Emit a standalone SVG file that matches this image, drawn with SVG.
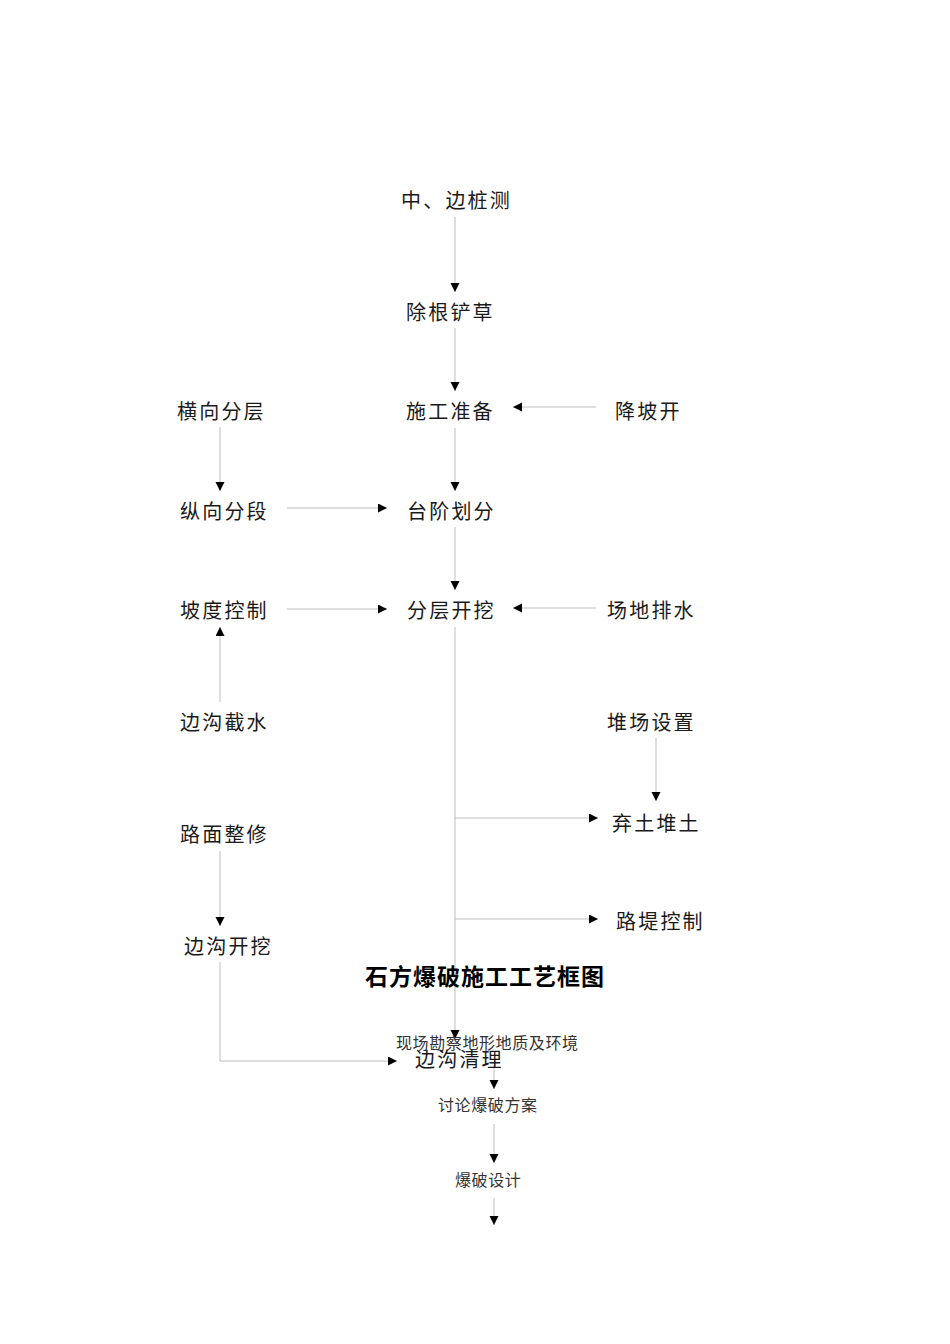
<svg xmlns="http://www.w3.org/2000/svg" width="950" height="1344" viewBox="0 0 950 1344">
<style>
.n{font-family:"Noto Sans CJK SC","Noto Sans CJK JP",sans-serif;font-size:20px;letter-spacing:2.2px;fill:#1a1a1a;}
.s{font-family:"Noto Sans CJK SC","Noto Sans CJK JP",sans-serif;font-size:16px;letter-spacing:0.6px;fill:#333;}
.t{font-family:"Noto Sans CJK SC","Noto Sans CJK JP",sans-serif;font-size:23px;font-weight:bold;fill:#000;}
.c{stroke:#bdbdbd;stroke-width:1;fill:none;marker-end:url(#ah);}
</style>
<defs>
<marker id="ah" markerUnits="userSpaceOnUse" markerWidth="10" markerHeight="10" refX="9" refY="4.5" orient="auto">
<path d="M0,0 L9,4.5 L0,9 z" fill="#000"/>
</marker>
</defs>
<rect width="950" height="1344" fill="#fff"/>
<g id="connectors">
<line class="c" x1="455" y1="217" x2="455" y2="292"/>
<line class="c" x1="455" y1="328" x2="455" y2="391"/>
<line class="c" x1="596" y1="407" x2="513" y2="407"/>
<line class="c" x1="220" y1="427" x2="220" y2="491"/>
<line class="c" x1="455" y1="428" x2="455" y2="491"/>
<line class="c" x1="287" y1="508" x2="387" y2="508"/>
<line class="c" x1="455" y1="527" x2="455" y2="590"/>
<line class="c" x1="287" y1="609" x2="387" y2="609"/>
<line class="c" x1="596" y1="608" x2="513" y2="608"/>
<line class="c" x1="220" y1="702" x2="220" y2="627"/>
<line class="c" x1="455" y1="627" x2="455" y2="1039"/>
<line class="c" x1="656" y1="738" x2="656" y2="801"/>
<line class="c" x1="455" y1="818" x2="598" y2="818"/>
<line class="c" x1="455" y1="919" x2="598" y2="919"/>
<line class="c" x1="220" y1="851" x2="220" y2="926"/>
<polyline class="c" points="220,962 220,1061 397,1061"/>
<line class="c" x1="494" y1="1066" x2="494" y2="1089"/>
<line class="c" x1="494" y1="1124" x2="494" y2="1163"/>
<line class="c" x1="494" y1="1198" x2="494" y2="1225"/>
</g>
<g id="n1"><text class="n" x="401" y="208">中、边桩测</text></g>
<g id="n2"><text class="n" x="406" y="320">除根铲草</text></g>
<g id="n3"><text class="n" x="406" y="419">施工准备</text></g>
<g id="n4"><text class="n" x="615" y="419">降坡开</text></g>
<g id="n5"><text class="n" x="177" y="419">横向分层</text></g>
<g id="n6"><text class="n" x="180" y="519">纵向分段</text></g>
<g id="n7"><text class="n" x="407" y="519">台阶划分</text></g>
<g id="n8"><text class="n" x="180" y="618">坡度控制</text></g>
<g id="n9"><text class="n" x="407" y="618">分层开挖</text></g>
<g id="n10"><text class="n" x="607" y="618">场地排水</text></g>
<g id="n11"><text class="n" x="180" y="730">边沟截水</text></g>
<g id="n12"><text class="n" x="607" y="730">堆场设置</text></g>
<g id="n13"><text class="n" x="612" y="831">弃土堆土</text></g>
<g id="n14"><text class="n" x="180" y="842">路面整修</text></g>
<g id="n15"><text class="n" x="616" y="929">路堤控制</text></g>
<g id="n16"><text class="n" x="184" y="954">边沟开挖</text></g>
<g id="title"><text class="t" x="365" y="985" textLength="239" lengthAdjust="spacing">石方爆破施工工艺框图</text></g>
<g id="n17"><text class="s" x="396" y="1049">现场勘察地形地质及环境</text></g>
<g id="n18"><text class="n" x="415" y="1067">边沟清理</text></g>
<g id="n19"><text class="s" x="438" y="1111">讨论爆破方案</text></g>
<g id="n20"><text class="s" x="455" y="1186">爆破设计</text></g>
</svg>
